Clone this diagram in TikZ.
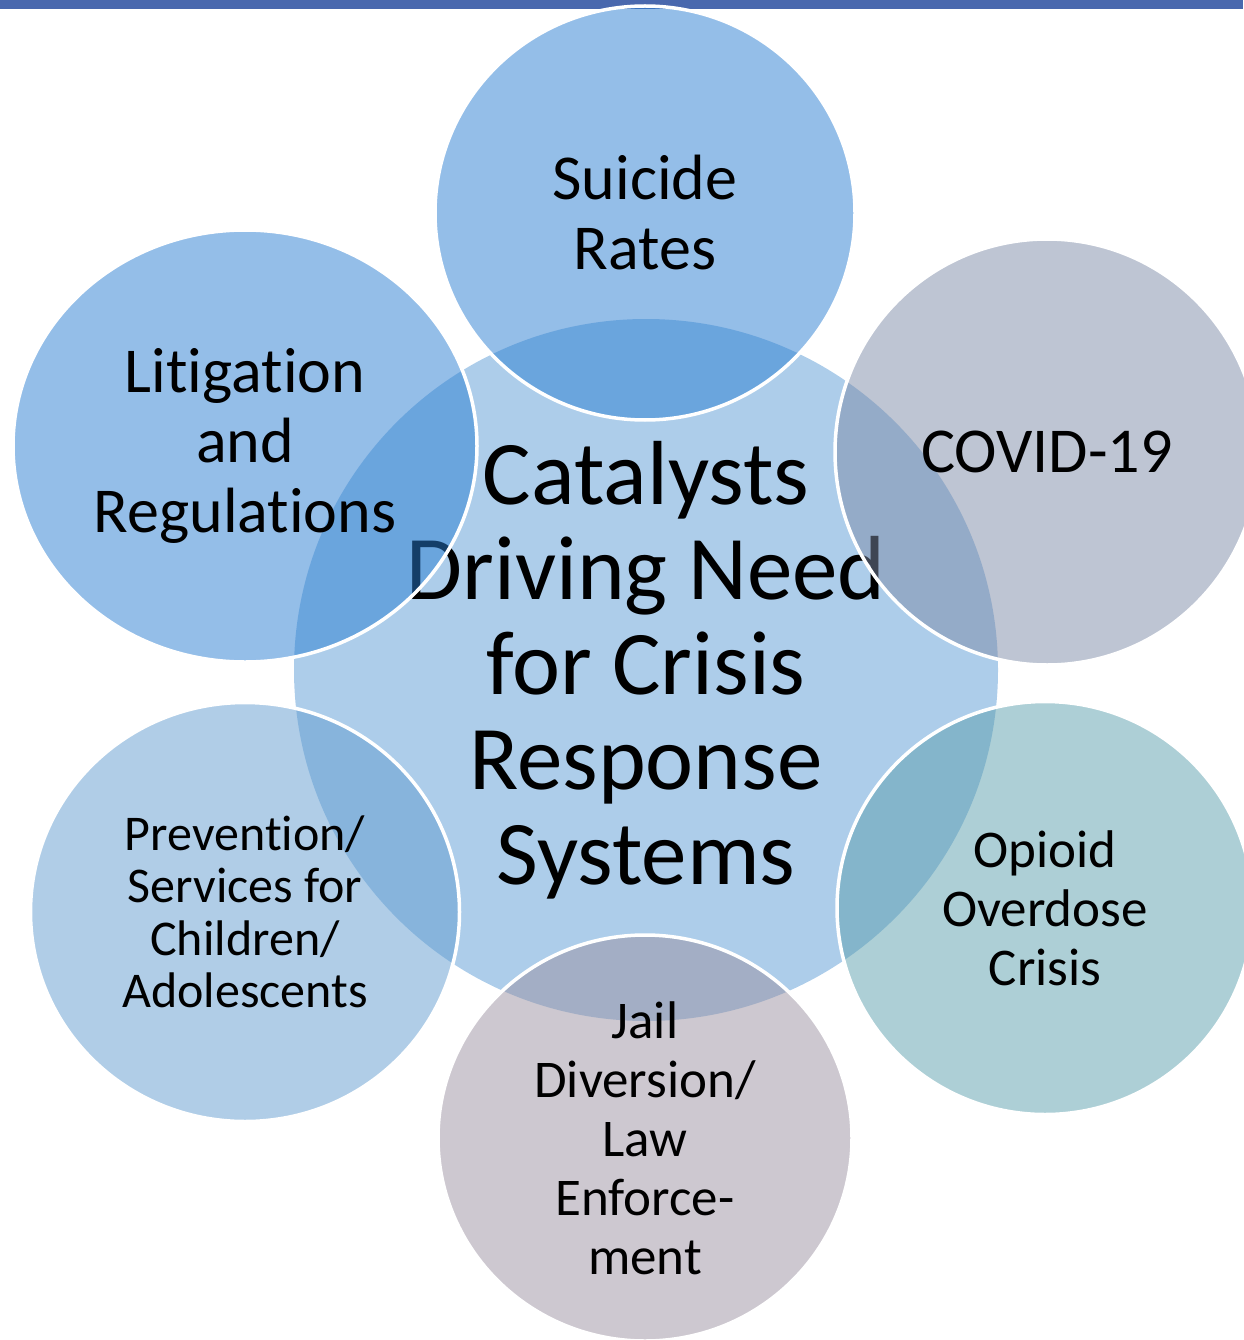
\documentclass[tikz,border=0pt]{standalone}
\usepackage{fontspec}
\setmainfont{Carlito}[RawFeature={-liga;-clig;-dlig}]
\usetikzlibrary{shapes.geometric}
\newcommand{\nolig}{\kern0pt\relax}
\definecolor{barblue}{RGB}{73,104,174}
\definecolor{hubfill}{RGB}{91,155,213}
\definecolor{bluefill}{RGB}{41,125,209}
\definecolor{palefill}{RGB}{97,155,207}
\definecolor{covidfill}{RGB}{125,139,167}
\definecolor{opioidfill}{RGB}{91,159,173}
\definecolor{jailfill}{RGB}{155,145,161}
\tikzset{
  sat/.style={ellipse, draw=white, line width=3.5pt, fill opacity=0.5,
    draw opacity=1, text opacity=1, inner sep=0pt, outer sep=0pt,
    align=center, text=black},
  hub/.style={ellipse, fill=hubfill, fill opacity=0.5, text opacity=1,
    inner sep=0pt, outer sep=0pt, align=center, text=black,
    font=\fontsize{91}{95}\selectfont},
  bigtext/.style={font=\fontsize{64}{70}\selectfont},
  midtext/.style={font=\fontsize{53}{59}\selectfont},
  smalltext/.style={font=\fontsize{50}{52.5}\selectfont}
}
\begin{document}
\begin{tikzpicture}[x=1pt,y=-1pt]
\useasboundingbox (0,0) rectangle (1243,1340);
\fill[barblue] (0,0) rectangle (1243,9);
\node[hub, minimum width=704pt, minimum height=702pt] (hub) at (646,670)
  {Catalysts\\Driving Need\\for Crisis\\Response\\Systems};
\node[sat, bigtext, fill=bluefill, minimum width=420pt, minimum height=414pt] (suicide) at (645,213)
  {Suicide\\Rates};
\node[sat, bigtext, fill=covidfill, minimum width=424pt, minimum height=426pt] (covid) at (1047,452)
  {COVID-19};
\node[sat, midtext, fill=opioidfill, minimum width=416pt, minimum height=413pt] (opioid) at (1045,908)
  {Opioid\\Overdose\\Crisis};
\node[sat, midtext, fill=jailfill, minimum width=414pt, minimum height=406pt] (jail) at (645,1138)
  {Jail\\Diversion/\\Law\\Enforce-\\ment};
\node[sat, smalltext, fill=palefill, minimum width=429pt, minimum height=419pt] (prevention) at (245,912)
  {Prevent\nolig ion/\\Services for\\Children/\\Adolescents};
\node[sat, bigtext, fill=bluefill, minimum width=464pt, minimum height=432pt] (litigation) at (245,446)
  {Lit\nolig igat\nolig ion\\and\\Regulat\nolig ions};
\end{tikzpicture}
\end{document}
